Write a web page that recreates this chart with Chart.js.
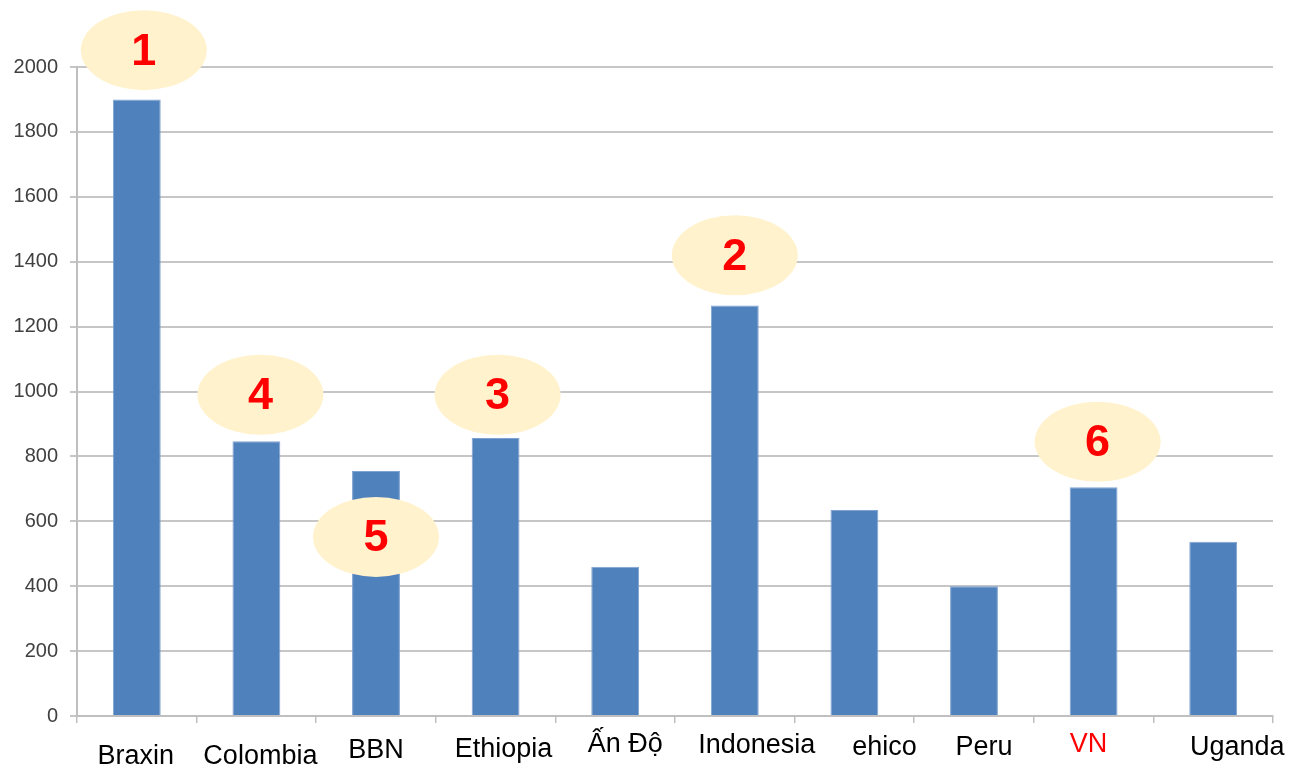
<!DOCTYPE html>
<html>
<head>
<meta charset="utf-8">
<script src="https://cdn.jsdelivr.net/npm/chart.js@4"></script>
<style>
html,body{margin:0;padding:0;background:#fff;}
#wrap{width:1291px;height:768px;position:relative;}
</style>
</head>
<body>
<div id="wrap"><canvas id="c" width="1291" height="768"></canvas></div>
<script>
// ---- data ----
const categories = ["Braxin","Colombia","BBN","Ethiopia","Ấn Độ","Indonesia","ehico","Peru","VN","Uganda"];
const production = [1900, 847, 755, 857, 460, 1265, 635, 400, 705, 537];
const rankLabels = ["1","4","5","3",null,"2",null,null,"6",null];
const yTicks = [0,200,400,600,800,1000,1200,1400,1600,1800,2000];

// ---- annotation / layout tweaks (not data) ----
const rankAnchorValue = [2052, 990, 552, 990, null, 1420, null, null, 845, null];
const rankDx = [7, 4, 0, 2, 0, 0, 0, 0, 4, 0];
const labelDx = [-1, 4, 0, 8, 10, 22, 30, 10, -5, 24];
const labelBaseline = [764, 764, 758, 757, 752, 753, 755, 755, 752, 755];
const labelColors = ["#000","#000","#000","#000","#000","#000","#000","#000","#ff0000","#000"];

const overlay = {
  id: 'overlay',
  afterDatasetsDraw(chart) {
    const ctx = chart.ctx, x = chart.scales.x, y = chart.scales.y;
    ctx.save();
    rankLabels.forEach((r, i) => {
      if (!r) return;
      const cx = x.getPixelForValue(i) + rankDx[i];
      const cy = y.getPixelForValue(rankAnchorValue[i]);
      ctx.beginPath();
      ctx.ellipse(cx, cy, 63, 40, 0, 0, Math.PI * 2);
      ctx.fillStyle = '#FFF2CC';
      ctx.fill();
      ctx.fillStyle = '#FF0000';
      ctx.font = 'bold 45px "Liberation Sans", Arial, sans-serif';
      ctx.textAlign = 'center';
      ctx.textBaseline = 'middle';
      ctx.fillText(r, cx, cy + 2);
    });
    ctx.restore();
  },
  afterDraw(chart) {
    const ctx = chart.ctx, x = chart.scales.x;
    ctx.save();
    ctx.font = '27px "Liberation Sans", Arial, sans-serif';
    ctx.textAlign = 'center';
    ctx.textBaseline = 'alphabetic';
    categories.forEach((c, i) => {
      ctx.fillStyle = labelColors[i];
      ctx.fillText(c, x.getPixelForValue(i) + labelDx[i], labelBaseline[i]);
    });
    ctx.restore();
  }
};

new Chart(document.getElementById('c'), {
  type: 'bar',
  data: {
    labels: categories,
    datasets: [{
      data: production,
      backgroundColor: '#4F81BD',
      borderColor: '#7FA3D0',
      borderWidth: 1,
      barPercentage: 0.4,
      categoryPercentage: 1.0
    }]
  },
  options: {
    responsive: false,
    animation: false,
    layout: { padding: { left: 0, right: 18, top: 67, bottom: 0 } },
    plugins: { legend: { display: false }, tooltip: { enabled: false } },
    scales: {
      x: {
        afterFit(s) { s.height = 52; },
        border: { color: '#BFBFBF', width: 2 },
        grid: { display: true, drawOnChartArea: false, offset: true, color: '#BFBFBF', lineWidth: 1.5, tickLength: 7 },
        ticks: { display: false }
      },
      y: {
        min: 0, max: 2000,
        afterFit(s) { s.width = 77; },
        afterBuildTicks(s) { s.ticks = yTicks.map(v => ({ value: v })); },
        border: { color: '#BFBFBF', width: 2 },
        grid: { color: '#C6C6C6', lineWidth: 2, tickLength: 7 },
        ticks: {
          color: '#404040',
          font: { family: '"Liberation Sans", Arial, sans-serif', size: 20 },
          padding: 12,
          callback: v => String(v)
        }
      }
    }
  },
  plugins: [overlay]
});
</script>
</body>
</html>
